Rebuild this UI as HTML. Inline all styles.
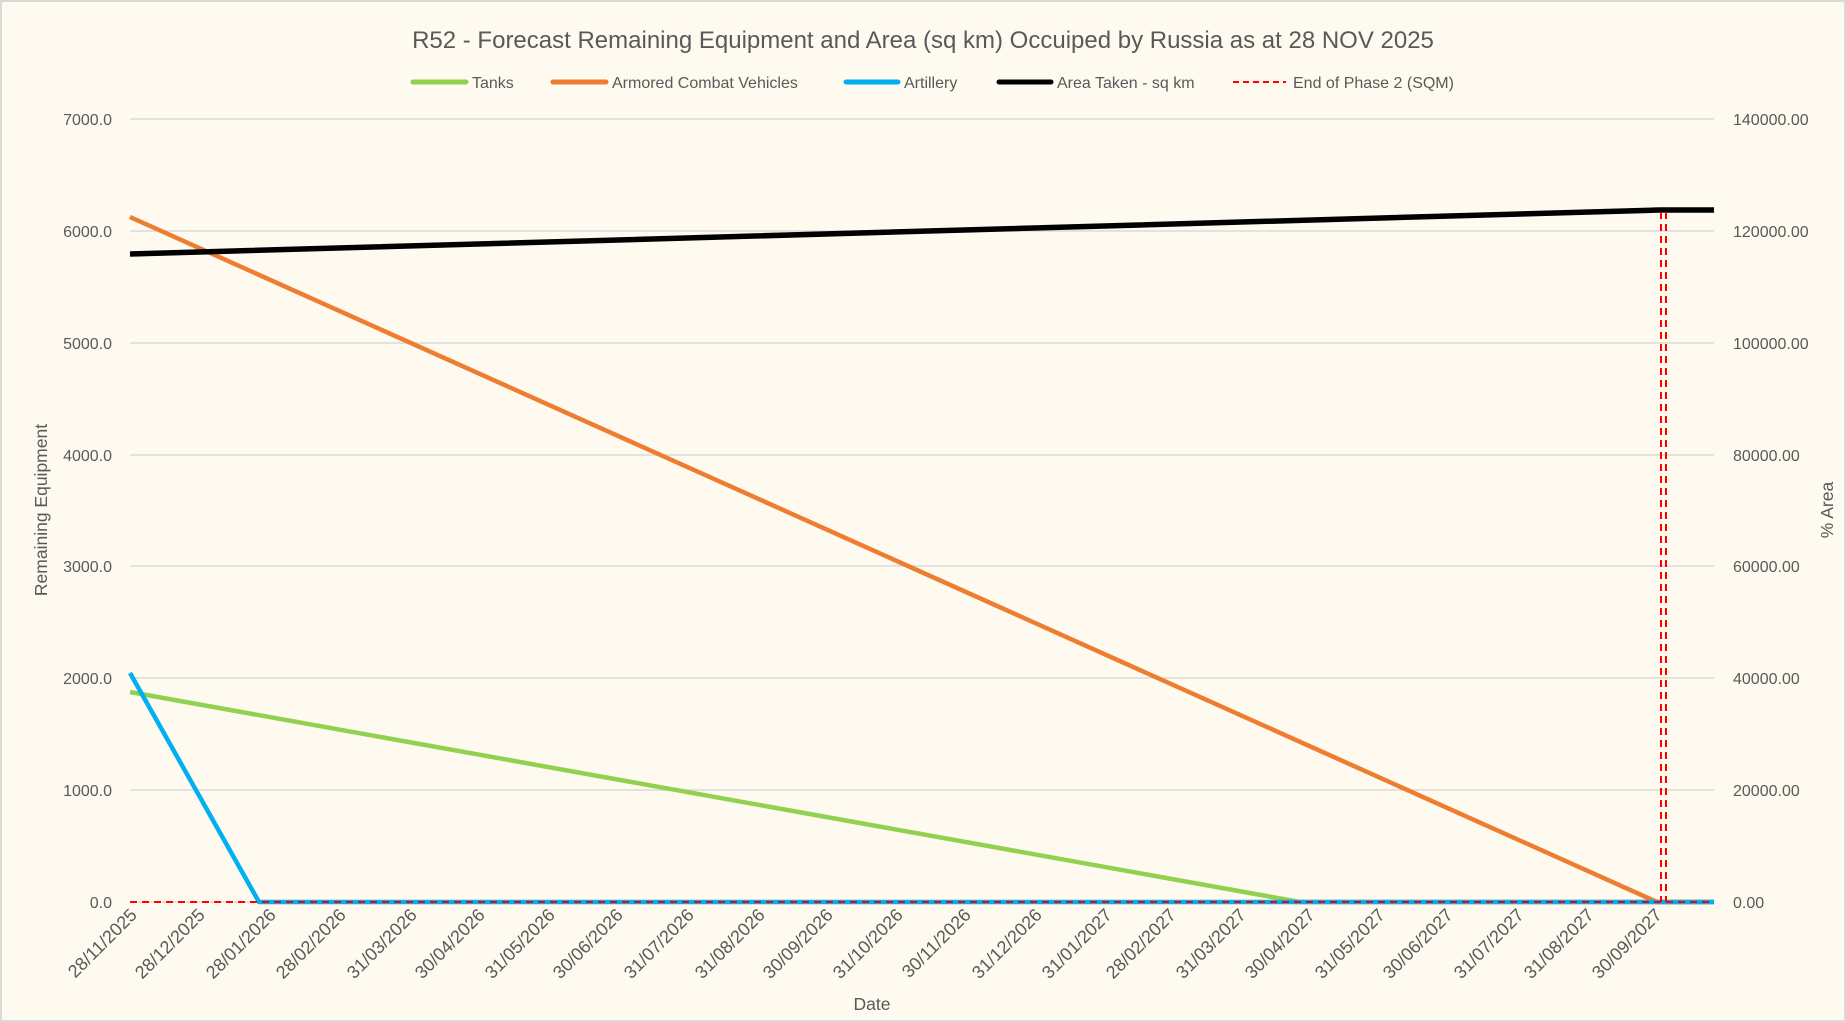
<!DOCTYPE html>
<html><head><meta charset="utf-8"><style>
html,body{margin:0;padding:0;background:#fff;}
svg{display:block;font-family:"Liberation Sans",sans-serif;}
</style></head><body>
<svg width="1846" height="1022" viewBox="0 0 1846 1022" xmlns="http://www.w3.org/2000/svg">
<rect x="1" y="1" width="1844" height="1020" fill="#fefaef" stroke="#d9d9d9" stroke-width="2"/>
<text x="923" y="48" text-anchor="middle" font-size="24" fill="#595959">R52 - Forecast Remaining Equipment and Area (sq km) Occuiped by Russia as at 28 NOV 2025</text>
<g font-size="16" fill="#595959">
<line x1="413" y1="82" x2="466" y2="82" stroke="#92d050" stroke-width="5" stroke-linecap="round"/><text x="472" y="88">Tanks</text>
<line x1="553" y1="82" x2="606" y2="82" stroke="#ed7d31" stroke-width="5" stroke-linecap="round"/><text x="612" y="88">Armored Combat Vehicles</text>
<line x1="846" y1="82" x2="898" y2="82" stroke="#00b0f0" stroke-width="5" stroke-linecap="round"/><text x="904" y="88">Artillery</text>
<line x1="999" y1="82" x2="1051" y2="82" stroke="#000" stroke-width="5" stroke-linecap="round"/><text x="1057" y="88">Area Taken - sq km</text>
<line x1="1233" y1="82" x2="1286" y2="82" stroke="#ff0000" stroke-width="2" stroke-dasharray="6,4"/><text x="1293" y="88">End of Phase 2 (SQM)</text>
</g>
<g stroke="#d9d9d9" stroke-width="1.5">
<line x1="130" y1="119" x2="1714" y2="119"/><line x1="130" y1="231" x2="1714" y2="231"/>
<line x1="130" y1="343" x2="1714" y2="343"/><line x1="130" y1="455" x2="1714" y2="455"/>
<line x1="130" y1="566" x2="1714" y2="566"/><line x1="130" y1="678" x2="1714" y2="678"/>
<line x1="130" y1="790" x2="1714" y2="790"/><line x1="130" y1="902" x2="1714" y2="902"/>
</g>
<g font-size="16" fill="#595959" text-anchor="end">
<text x="112" y="125">7000.0</text><text x="112" y="237">6000.0</text><text x="112" y="349">5000.0</text><text x="112" y="461">4000.0</text><text x="112" y="572">3000.0</text><text x="112" y="684">2000.0</text><text x="112" y="796">1000.0</text><text x="112" y="908">0.0</text>
</g>
<g font-size="16" fill="#595959">
<text x="1733" y="125">140000.00</text><text x="1733" y="237">120000.00</text><text x="1733" y="349">100000.00</text><text x="1733" y="461">80000.00</text><text x="1733" y="572">60000.00</text><text x="1733" y="684">40000.00</text><text x="1733" y="796">20000.00</text><text x="1733" y="908">0.00</text>
</g>
<text transform="translate(47,510) rotate(-90)" text-anchor="middle" font-size="17.5" fill="#595959">Remaining Equipment</text>
<text transform="translate(1833,510) rotate(-90)" text-anchor="middle" font-size="17.5" fill="#595959">% Area</text>
<text x="872" y="1010" text-anchor="middle" font-size="17.5" fill="#595959">Date</text>
<g font-size="18" fill="#595959" text-anchor="end">
<text transform="translate(138,916) rotate(-45)">28/11/2025</text>
<text transform="translate(206,916) rotate(-45)">28/12/2025</text>
<text transform="translate(277,916) rotate(-45)">28/01/2026</text>
<text transform="translate(347,916) rotate(-45)">28/02/2026</text>
<text transform="translate(418,916) rotate(-45)">31/03/2026</text>
<text transform="translate(486,916) rotate(-45)">30/04/2026</text>
<text transform="translate(556,916) rotate(-45)">31/05/2026</text>
<text transform="translate(624,916) rotate(-45)">30/06/2026</text>
<text transform="translate(695,916) rotate(-45)">31/07/2026</text>
<text transform="translate(766,916) rotate(-45)">31/08/2026</text>
<text transform="translate(834,916) rotate(-45)">30/09/2026</text>
<text transform="translate(904,916) rotate(-45)">31/10/2026</text>
<text transform="translate(972,916) rotate(-45)">30/11/2026</text>
<text transform="translate(1043,916) rotate(-45)">31/12/2026</text>
<text transform="translate(1113,916) rotate(-45)">31/01/2027</text>
<text transform="translate(1177,916) rotate(-45)">28/02/2027</text>
<text transform="translate(1247,916) rotate(-45)">31/03/2027</text>
<text transform="translate(1316,916) rotate(-45)">30/04/2027</text>
<text transform="translate(1386,916) rotate(-45)">31/05/2027</text>
<text transform="translate(1454,916) rotate(-45)">30/06/2027</text>
<text transform="translate(1525,916) rotate(-45)">31/07/2027</text>
<text transform="translate(1595,916) rotate(-45)">31/08/2027</text>
<text transform="translate(1663,916) rotate(-45)">30/09/2027</text>
</g>
<g fill="none" stroke-width="4.5" stroke-linejoin="round">
<polyline stroke="#92d050" points="130,692 1300,902 1714,902"/>
<polyline stroke="#ed7d31" points="130,217 1657,902 1714,902"/>
<polyline stroke="#00b0f0" points="130,673 259,902 1714,902"/>
<polyline stroke="#000" stroke-width="5.5" points="130,254 1659,210 1714,210"/>
</g>
<g stroke="#ff0000" stroke-width="2" stroke-dasharray="7,5" fill="none">
<line x1="130" y1="902" x2="1714" y2="902"/>
<line x1="1661" y1="212" x2="1661" y2="902"/>
<line x1="1666" y1="212" x2="1666" y2="902"/>
</g>
</svg>
</body></html>
